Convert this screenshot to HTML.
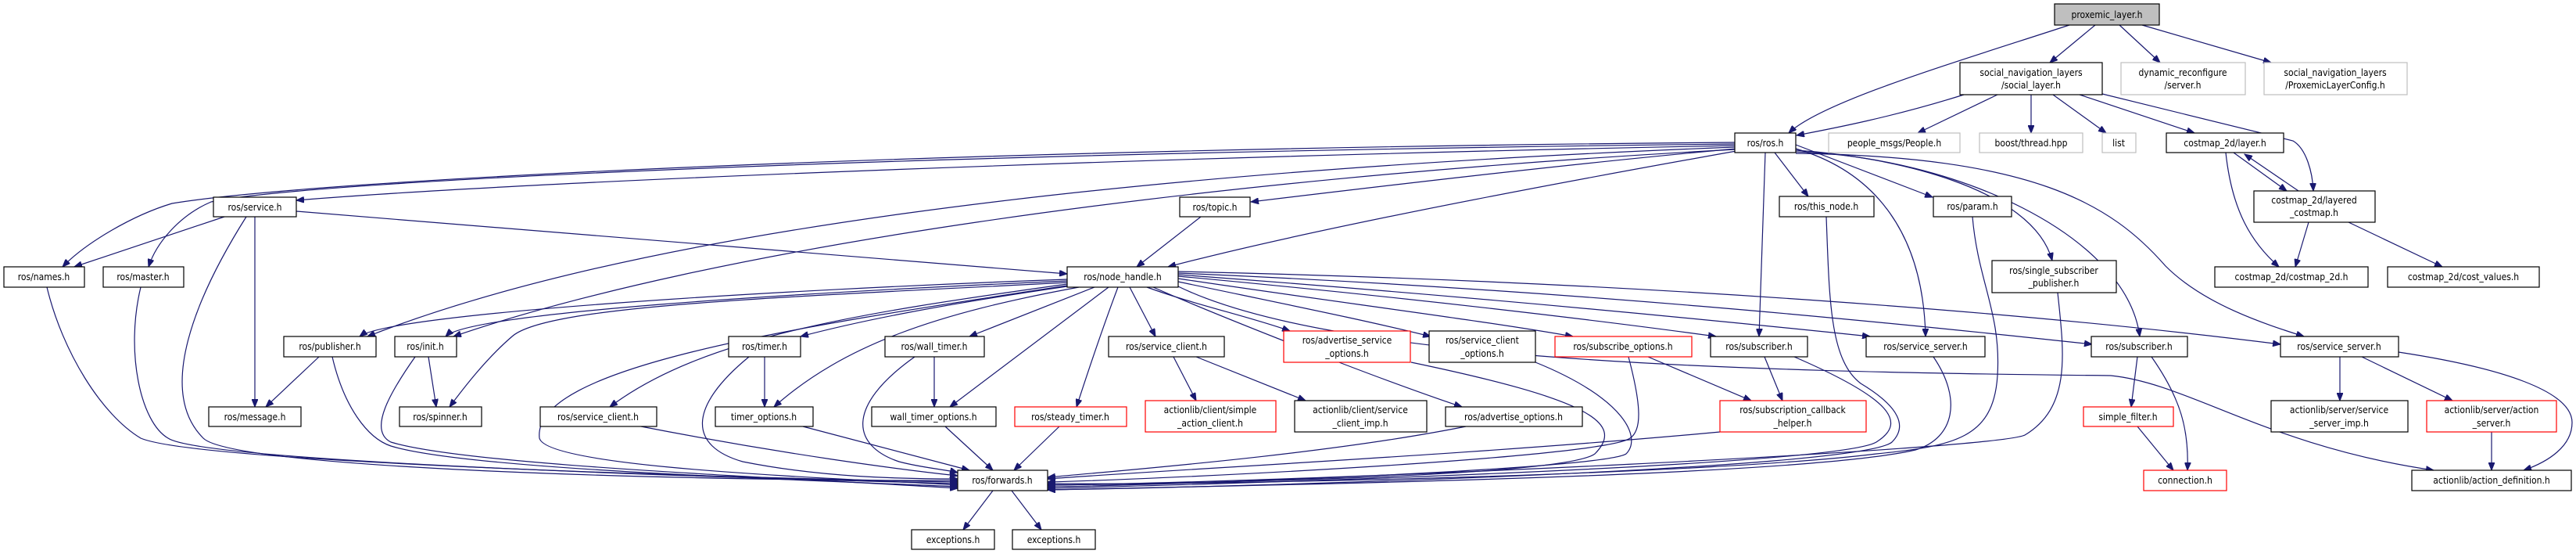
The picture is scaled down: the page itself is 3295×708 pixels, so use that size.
<!DOCTYPE html>
<html><head><meta charset="utf-8"><style>
html,body{margin:0;padding:0;background:#fff;}
svg{display:block;}
text{font-family:"DejaVu Sans Condensed","DejaVu Sans","Liberation Sans",sans-serif;font-size:12px;fill:#000;text-anchor:middle;}
.b{fill:#fff;stroke:#000;stroke-width:1.2;}
.g{fill:#fff;stroke:#bfbfbf;stroke-width:1.2;}
.r{fill:#fff;stroke:#ff0000;stroke-width:1.2;}
.e path{fill:none;stroke:#191970;stroke-width:1.2;marker-end:url(#a);}
</style></head><body>
<svg width="3295" height="708" viewBox="0 0 3295 708" xmlns="http://www.w3.org/2000/svg">
<defs><marker id="a" markerUnits="userSpaceOnUse" markerWidth="11" markerHeight="8" refX="10" refY="4" orient="auto"><path d="M0,0 L10,4 L0,8 z" fill="#191970" stroke="#191970"/></marker></defs>
<g class="e">
<path d="M2647,32 C2500,80 2330,130 2288,170"/>
<path d="M2680,32 L2622,80"/>
<path d="M2711,32 L2763,80"/>
<path d="M2740,32 L2905,80"/>
<path d="M2512,121 C2420,150 2340,165 2298,173"/>
<path d="M2555,121 L2453,170"/>
<path d="M2598,121 L2598,170"/>
<path d="M2626,121 L2694,170"/>
<path d="M2660,121 L2807,170"/>
<path d="M2689,120 L2933,180 C2950,190 2958,220 2959,244"/>
<path d="M2857,195 L2925,244"/>
<path d="M2940,244 L2871,197"/>
<path d="M2847,195 C2855,270 2880,310 2915,341"/>
<path d="M2953,284 L2936,341"/>
<path d="M3004,284 L3124,341"/>
<path d="M2219,182 C1200,190 400,230 220,260 C170,275 110,310 80,341"/>
<path d="M2219,184 C1200,195 400,230 270,258 C230,275 200,310 190,341"/>
<path d="M2219,186 C1500,200 700,230 379,256"/>
<path d="M2221,190 C2000,210 1750,240 1600,258"/>
<path d="M2221,193 C1900,250 1650,300 1494,341"/>
<path d="M2219,188 C1400,220 800,300 470,430"/>
<path d="M2219,191 C1500,230 900,320 580,430"/>
<path d="M2270,195 L2313,251"/>
<path d="M2297,185 C2400,225 2440,240 2472,252"/>
<path d="M2258,195 L2250,430"/>
<path d="M2297,190 C2400,220 2460,300 2463,430"/>
<path d="M2297,192 C2420,200 2600,240 2625,333"/>
<path d="M2297,194 C2500,200 2720,300 2737,430"/>
<path d="M2297,196 C2600,200 2700,260 2770,340 C2820,390 2900,415 2947,430"/>
<path d="M287,277 L95,341"/>
<path d="M315,277 C250,380 200,500 260,560 C300,600 900,615 1225,614"/>
<path d="M326,277 L326,520"/>
<path d="M379,270 L1365,350"/>
<path d="M60,367 C80,450 130,530 180,560 C250,590 900,610 1225,616"/>
<path d="M180,367 C160,450 180,540 215,560 C260,590 900,610 1225,618"/>
<path d="M1536,277 L1454,341"/>
<path d="M1365,357 C1000,370 500,400 460,430"/>
<path d="M1365,359 C1000,375 600,400 570,430"/>
<path d="M1365,361 C1000,380 700,390 655,430 C620,460 590,500 575,520"/>
<path d="M1365,363 C1100,400 900,430 780,520"/>
<path d="M1365,365 C1000,420 680,470 690,560 C700,600 1100,612 1225,620"/>
<path d="M1365,366 C1200,390 1100,410 1024,430"/>
<path d="M1380,367 C1200,400 1080,440 990,520"/>
<path d="M1400,367 L1240,430"/>
<path d="M1418,367 L1215,520"/>
<path d="M1430,367 C1410,420 1390,480 1377,520"/>
<path d="M1445,367 L1478,430"/>
<path d="M1467,367 C1530,390 1600,405 1650,423"/>
<path d="M1507,360 C1650,390 1750,410 1830,430"/>
<path d="M1507,356 C1700,385 1900,410 2012,430"/>
<path d="M1507,353 C1800,380 2050,410 2195,430"/>
<path d="M1507,351 C1900,380 2200,410 2392,430"/>
<path d="M1507,349 C2000,370 2400,410 2676,440"/>
<path d="M1507,347 C2100,360 2600,400 2917,440"/>
<path d="M1475,367 C1550,400 1750,480 1870,520"/>
<path d="M1507,366 C1700,460 2200,475 2700,480 C2800,490 2900,570 3113,601"/>
<path d="M408,456 L340,520"/>
<path d="M425,456 C440,520 470,560 500,570 C600,600 1000,612 1225,622"/>
<path d="M531,456 C500,500 470,550 500,565 C600,595 1000,610 1225,624"/>
<path d="M548,456 L558,520"/>
<path d="M820,545 C1000,580 1150,600 1225,608"/>
<path d="M978,456 L978,520"/>
<path d="M958,456 C880,520 880,570 950,590 C1050,610 1150,612 1225,612"/>
<path d="M1027,545 L1240,601"/>
<path d="M1195,456 L1195,520"/>
<path d="M1170,456 C1080,520 1090,570 1150,590 C1180,598 1210,600 1225,604"/>
<path d="M1209,545 L1270,601"/>
<path d="M1355,545 L1297,601"/>
<path d="M1501,456 L1530,512"/>
<path d="M1530,456 L1670,512"/>
<path d="M1805,463 C2030,510 2080,540 2040,580 C2000,610 1500,618 1340,620"/>
<path d="M1964,463 C2080,510 2100,560 2080,580 C2050,600 1500,620 1340,622"/>
<path d="M2083,456 C2100,520 2100,550 2085,560 C2050,585 1500,612 1340,616"/>
<path d="M1875,545 C1700,580 1450,600 1340,610"/>
<path d="M2108,456 L2240,512"/>
<path d="M2257,456 L2280,512"/>
<path d="M2295,456 C2420,510 2440,540 2400,565 C2350,595 1600,618 1340,624"/>
<path d="M2200,552 C1900,580 1500,600 1340,612"/>
<path d="M2473,456 C2510,510 2500,560 2450,575 C2300,610 1600,620 1340,626"/>
<path d="M2336,277 C2340,380 2340,460 2380,490 C2430,520 2440,545 2420,565 C2380,600 1600,622 1340,626"/>
<path d="M2523,277 C2530,360 2560,400 2555,480 C2550,560 2500,570 2400,580 C2200,605 1600,620 1340,618"/>
<path d="M2632,374 C2640,450 2650,520 2590,556 C2550,575 1700,615 1340,620"/>
<path d="M2734,456 L2726,520"/>
<path d="M2752,456 C2790,510 2800,550 2798,601"/>
<path d="M2734,545 L2780,601"/>
<path d="M2993,456 L2993,512"/>
<path d="M3021,456 L3137,512"/>
<path d="M3068,450 C3200,470 3290,500 3290,540 C3290,570 3260,590 3228,601"/>
<path d="M3187,552 L3187,601"/>
<path d="M1270,627 L1232,677"/>
<path d="M1294,627 L1332,677"/>
</g>
<g>
<rect x="2628" y="5" width="134" height="27" fill="#bfbfbf" stroke="#000" stroke-width="1.2"/><text x="2695" y="23">proxemic_layer.h</text>
<rect class="b" x="2507" y="80" width="182" height="41"/><text x="2598" y="97">social_navigation_layers</text><text x="2598" y="113">/social_layer.h</text>
<rect class="g" x="2713" y="80" width="159" height="41"/><text x="2792" y="97">dynamic_reconfigure</text><text x="2792" y="113">/server.h</text>
<rect class="g" x="2896" y="80" width="183" height="41"/><text x="2987" y="97">social_navigation_layers</text><text x="2987" y="113">/ProxemicLayerConfig.h</text>
<rect class="b" x="2219" y="170" width="78" height="25"/><text x="2258" y="187">ros/ros.h</text>
<rect class="g" x="2339" y="170" width="168" height="25"/><text x="2423" y="187">people_msgs/People.h</text>
<rect class="g" x="2532" y="170" width="132" height="25"/><text x="2598" y="187">boost/thread.hpp</text>
<rect class="g" x="2689" y="170" width="43" height="25"/><text x="2710" y="187">list</text>
<rect class="b" x="2771" y="170" width="150" height="25"/><text x="2846" y="187">costmap_2d/layer.h</text>
<rect class="b" x="2276" y="251" width="121" height="26"/><text x="2336" y="268">ros/this_node.h</text>
<rect class="b" x="2473" y="251" width="100" height="26"/><text x="2523" y="268">ros/param.h</text>
<rect class="b" x="2883" y="244" width="155" height="40"/><text x="2960" y="260">costmap_2d/layered</text><text x="2960" y="276">_costmap.h</text>
<rect class="b" x="273" y="252" width="106" height="25"/><text x="326" y="269">ros/service.h</text>
<rect class="b" x="1509" y="252" width="90" height="25"/><text x="1554" y="269">ros/topic.h</text>
<rect class="b" x="5" y="341" width="103" height="26"/><text x="56" y="358">ros/names.h</text>
<rect class="b" x="132" y="341" width="103" height="26"/><text x="183" y="358">ros/master.h</text>
<rect class="b" x="1365" y="341" width="142" height="26"/><text x="1436" y="358">ros/node_handle.h</text>
<rect class="b" x="2548" y="333" width="159" height="41"/><text x="2627" y="350">ros/single_subscriber</text><text x="2627" y="366">_publisher.h</text>
<rect class="b" x="2833" y="341" width="196" height="26"/><text x="2931" y="358">costmap_2d/costmap_2d.h</text>
<rect class="b" x="3054" y="341" width="194" height="26"/><text x="3151" y="358">costmap_2d/cost_values.h</text>
<rect class="b" x="363" y="430" width="118" height="26"/><text x="422" y="447">ros/publisher.h</text>
<rect class="b" x="505" y="430" width="79" height="26"/><text x="544" y="447">ros/init.h</text>
<rect class="b" x="932" y="430" width="92" height="26"/><text x="978" y="447">ros/timer.h</text>
<rect class="b" x="1132" y="430" width="127" height="26"/><text x="1195" y="447">ros/wall_timer.h</text>
<rect class="b" x="1418" y="430" width="148" height="26"/><text x="1492" y="447">ros/service_client.h</text>
<rect class="r" x="1642" y="423" width="162" height="40"/><text x="1723" y="439">ros/advertise_service</text><text x="1723" y="456">_options.h</text>
<rect class="b" x="1828" y="423" width="136" height="40"/><text x="1896" y="439">ros/service_client</text><text x="1896" y="456">_options.h</text>
<rect class="r" x="1989" y="430" width="175" height="26"/><text x="2076" y="447">ros/subscribe_options.h</text>
<rect class="b" x="2188" y="430" width="124" height="26"/><text x="2250" y="447">ros/subscriber.h</text>
<rect class="b" x="2387" y="430" width="152" height="26"/><text x="2463" y="447">ros/service_server.h</text>
<rect class="b" x="2675" y="430" width="123" height="26"/><text x="2736" y="447">ros/subscriber.h</text>
<rect class="b" x="2917" y="430" width="151" height="26"/><text x="2992" y="447">ros/service_server.h</text>
<rect class="b" x="267" y="520" width="118" height="25"/><text x="326" y="537">ros/message.h</text>
<rect class="b" x="511" y="520" width="105" height="25"/><text x="563" y="537">ros/spinner.h</text>
<rect class="b" x="691" y="520" width="149" height="25"/><text x="765" y="537">ros/service_client.h</text>
<rect class="b" x="915" y="520" width="125" height="25"/><text x="977" y="537">timer_options.h</text>
<rect class="b" x="1115" y="520" width="159" height="25"/><text x="1194" y="537">wall_timer_options.h</text>
<rect class="r" x="1298" y="520" width="143" height="25"/><text x="1369" y="537">ros/steady_timer.h</text>
<rect class="r" x="1465" y="512" width="167" height="40"/><text x="1548" y="528">actionlib/client/simple</text><text x="1548" y="545">_action_client.h</text>
<rect class="b" x="1656" y="512" width="169" height="40"/><text x="1740" y="528">actionlib/client/service</text><text x="1740" y="545">_client_imp.h</text>
<rect class="b" x="1849" y="520" width="175" height="25"/><text x="1936" y="537">ros/advertise_options.h</text>
<rect class="r" x="2200" y="512" width="187" height="40"/><text x="2293" y="528">ros/subscription_callback</text><text x="2293" y="545">_helper.h</text>
<rect class="r" x="2665" y="520" width="115" height="25"/><text x="2722" y="537">simple_filter.h</text>
<rect class="b" x="2905" y="512" width="175" height="40"/><text x="2992" y="528">actionlib/server/service</text><text x="2992" y="545">_server_imp.h</text>
<rect class="r" x="3104" y="512" width="166" height="40"/><text x="3187" y="528">actionlib/server/action</text><text x="3187" y="545">_server.h</text>
<rect class="b" x="1225" y="601" width="115" height="26"/><text x="1282" y="618">ros/forwards.h</text>
<rect class="r" x="2742" y="601" width="106" height="26"/><text x="2795" y="618">connection.h</text>
<rect class="b" x="3085" y="601" width="204" height="26"/><text x="3187" y="618">actionlib/action_definition.h</text>
<rect class="b" x="1166" y="677" width="106" height="25"/><text x="1219" y="694">exceptions.h</text>
<rect class="b" x="1295" y="677" width="106" height="25"/><text x="1348" y="694">exceptions.h</text>
</g>
</svg>
</body></html>
